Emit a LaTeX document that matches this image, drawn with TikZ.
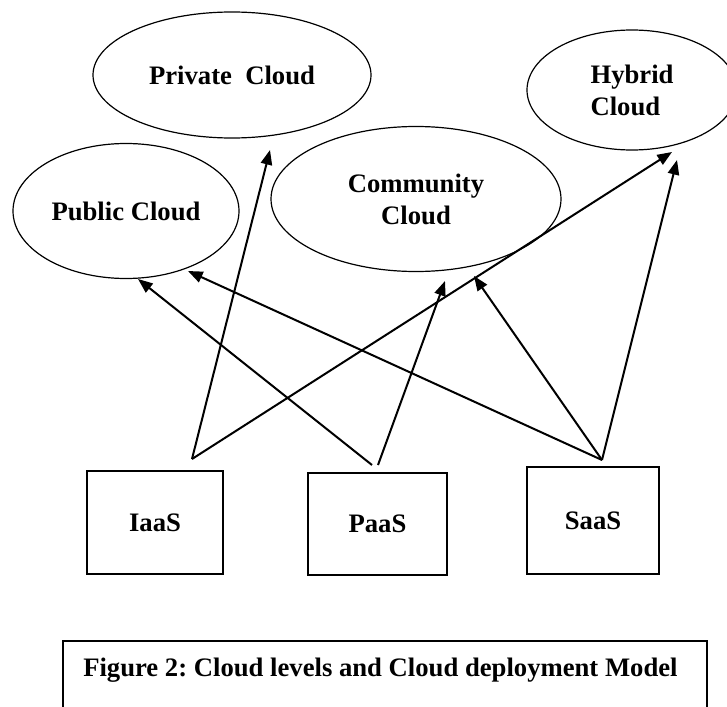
\documentclass[tikz,border=0pt]{standalone}
\usepackage{fontspec}
\setmainfont{Liberation Serif}
\usetikzlibrary{arrows.meta, shapes.geometric}
\frenchspacing

\begin{document}
\begin{tikzpicture}[
    x=0.75pt, y=-0.75pt,
    every node/.style={font=\fontsize{20}{24}\selectfont\bfseries},
    cloud/.style={ellipse, draw, line width=0.9pt, inner sep=0pt},
    level/.style={rectangle, draw, line width=1.5pt, inner sep=0pt},
    arrow/.style={-{Triangle[length=11pt, width=8.5pt]}, line width=1.5pt}
]

\useasboundingbox (0,0) rectangle (727,706);

% === DEPLOYMENT MODELS ===

\node[cloud, minimum width=208.5pt, minimum height=94.5pt] (private) at (232,75) {Private\ \ Cloud};
\node[cloud, minimum width=169.5pt, minimum height=101.25pt] (public) at (126,211) {Public Cloud};
\node[cloud, minimum width=217.5pt, minimum height=108.75pt, align=center] (community) at (416,199) {Community\\Cloud};
\node[cloud, minimum width=157.5pt, minimum height=90pt, align=left] (hybrid) at (632,90) {Hybrid\\Cloud};

% === SERVICE LEVELS ===

\node[level, minimum width=102pt, minimum height=77.25pt] (iaas) at (155,522.5) {IaaS};
\node[level, minimum width=104.25pt, minimum height=76.5pt] (paas) at (377.5,524) {PaaS};
\node[level, minimum width=99pt, minimum height=80.25pt] (saas) at (593,520.5) {SaaS};

% start points above the boxes
\coordinate (iaas apex) at (192,459);
\coordinate (paas apex a) at (372,465);
\coordinate (paas apex b) at (378,465);
\coordinate (saas apex) at (602,460);

% arrow tips below the clouds
\coordinate (private in) at (270,150);
\coordinate (public in a) at (138,279);
\coordinate (public in b) at (188,271);
\coordinate (community in a) at (445,281);
\coordinate (community in b) at (474,276);
\coordinate (hybrid in a) at (672,152);
\coordinate (hybrid in b) at (677,160);

% === CONNECTIONS ===

% IaaS -> Private, Hybrid
\draw[arrow] (iaas apex) -- (private in);
\draw[arrow] (iaas apex) -- (hybrid in a);

% PaaS -> Public, Community
\draw[arrow] (paas apex a) -- (public in a);
\draw[arrow] (paas apex b) -- (community in a);

% SaaS -> Public, Community, Hybrid
\draw[arrow] (saas apex) -- (public in b);
\draw[arrow] (saas apex) -- (community in b);
\draw[arrow] (saas apex) -- (hybrid in b);

% === CAPTION ===

\node[draw, line width=1.5pt, minimum width=483pt, minimum height=53.25pt, inner sep=0pt] (caption box) at (385,676.5) {};
\node[anchor=base west, inner sep=0pt] (caption) at (83,676) {Figure 2: Cloud levels and Cloud deployment Model};

\end{tikzpicture}
\end{document}
